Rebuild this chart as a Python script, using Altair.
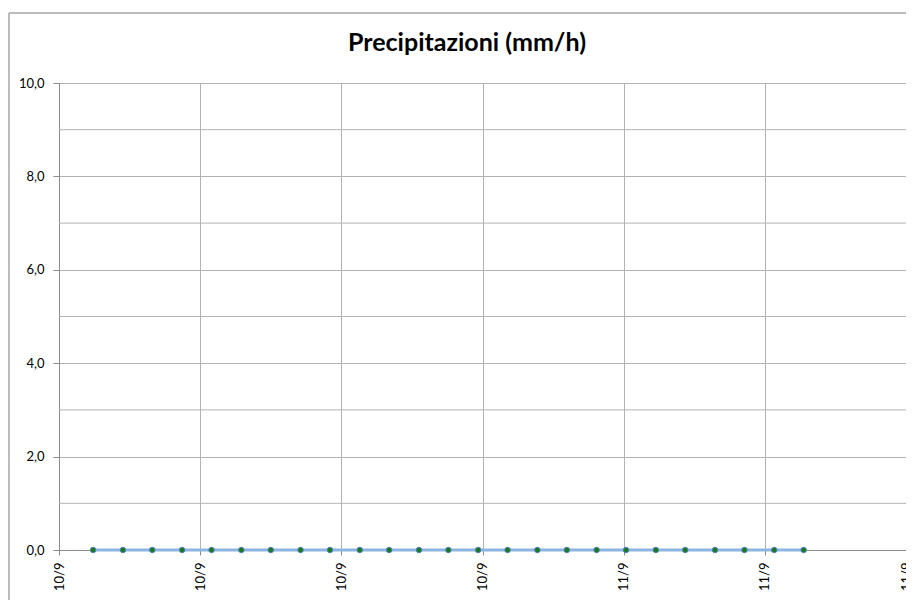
import altair as alt
import pandas as pd

# ---- data ----
times = [
    "2013-09-10T01:27:00", "2013-09-10T02:43:00", "2013-09-10T03:58:00",
    "2013-09-10T05:14:00", "2013-09-10T06:29:00", "2013-09-10T07:45:00",
    "2013-09-10T09:00:00", "2013-09-10T10:16:00", "2013-09-10T11:31:00",
    "2013-09-10T12:47:00", "2013-09-10T14:02:00", "2013-09-10T15:18:00",
    "2013-09-10T16:33:00", "2013-09-10T17:49:00", "2013-09-10T19:04:00",
    "2013-09-10T20:20:00", "2013-09-10T21:35:00", "2013-09-10T22:51:00",
    "2013-09-11T00:06:00", "2013-09-11T01:22:00", "2013-09-11T02:37:00",
    "2013-09-11T03:53:00", "2013-09-11T05:08:00", "2013-09-11T06:24:00",
    "2013-09-11T07:39:00",
]
precip = [0.0, 0.0, 0.0, 0.0, 0.0, 0.0, 0.0, 0.0, 0.0, 0.0, 0.0, 0.0, 0.0,
          0.0, 0.0, 0.0, 0.0, 0.0, 0.0, 0.0, 0.0, 0.0, 0.0, 0.0, 0.0]
y_major = [0, 2, 4, 6, 8, 10]
y_minor = [1, 3, 5, 7, 9]
x_ticks = [
    "2013-09-10T00:00:00", "2013-09-10T06:00:00", "2013-09-10T12:00:00",
    "2013-09-10T18:00:00", "2013-09-11T00:00:00", "2013-09-11T06:00:00",
    "2013-09-11T12:00:00",
]
title_text = "Precipitazioni (mm/h)"


def to_dt(s):
    t = pd.Timestamp(s)
    return alt.DateTime(year=t.year, month=t.month, date=t.day,
                        hours=t.hour, minutes=t.minute)


df = pd.DataFrame({"t": times, "v": precip})
minor_df = pd.DataFrame({"m": y_minor})
title_df = pd.DataFrame({"label": [title_text]})

GRID = "#b2b2b2"
AXIS = "#8c8c8c"
FONT = "Lato"
W = 847
H = 467

x_enc = alt.X(
    "t:T",
    scale=alt.Scale(domain=[to_dt(x_ticks[0]), to_dt(x_ticks[-1])], nice=False),
    axis=alt.Axis(
        values=[to_dt(s) for s in x_ticks],
        format="%d/%-m",
        labelAngle=270,
        labelAlign="right",
        labelBaseline="middle",
        labelPadding=7,
        tickSize=5,
        grid=True,
        gridColor=GRID,
        title=None,
        labelFlush=False,
        labelOverlap=False,
    ),
)
y_enc = alt.Y(
    "v:Q",
    scale=alt.Scale(domain=[0, 10], nice=False),
    axis=alt.Axis(
        values=y_major,
        labelExpr="replace(format(datum.value, '.1f'), '.', ',')",
        tickSize=6,
        labelPadding=9,
        grid=True,
        gridColor=GRID,
        title=None,
    ),
)

minor = alt.Chart(minor_df).mark_rule(color=GRID, strokeWidth=1).encode(
    y=alt.Y("m:Q", scale=alt.Scale(domain=[0, 10], nice=False))
)
line = alt.Chart(df).mark_line(color="#8db4e2", strokeWidth=3).encode(x=x_enc, y=y_enc)
pts = alt.Chart(df).mark_point(
    filled=True, fill="#1a7a1a", stroke="#4f81bd", strokeWidth=1, size=30, opacity=1
).encode(x=x_enc, y=y_enc)

frame_top = alt.Chart(title_df).mark_rule(color="#a6a6a6", strokeWidth=1.5).encode(
    x=alt.value(-50), x2=alt.value(W), y=alt.value(-70)
)
frame_left = alt.Chart(title_df).mark_rule(color="#a6a6a6", strokeWidth=1.5).encode(
    x=alt.value(-50), y=alt.value(-70), y2=alt.value(H + 50)
)
title = alt.Chart(title_df).mark_text(
    font=FONT, fontSize=25, fontWeight="bold", color="#000000",
    align="center", baseline="alphabetic",
).encode(text="label:N", x=alt.value(408), y=alt.value(-32))

chart = (
    alt.layer(minor, line, pts, frame_top, frame_left, title)
    .properties(
        width=W,
        height=H,
        padding={"left": 51, "top": 75, "right": 0, "bottom": 50},
        autosize=alt.AutoSizeParams(type="none"),
    )
    .configure_view(stroke=None)
    .configure_axis(
        domainColor=AXIS, tickColor=AXIS, labelFont=FONT, labelFontSize=13,
        labelColor="#000000",
    )
)

chart.save("out.html", embed_options={"renderer": "svg", "actions": False})
